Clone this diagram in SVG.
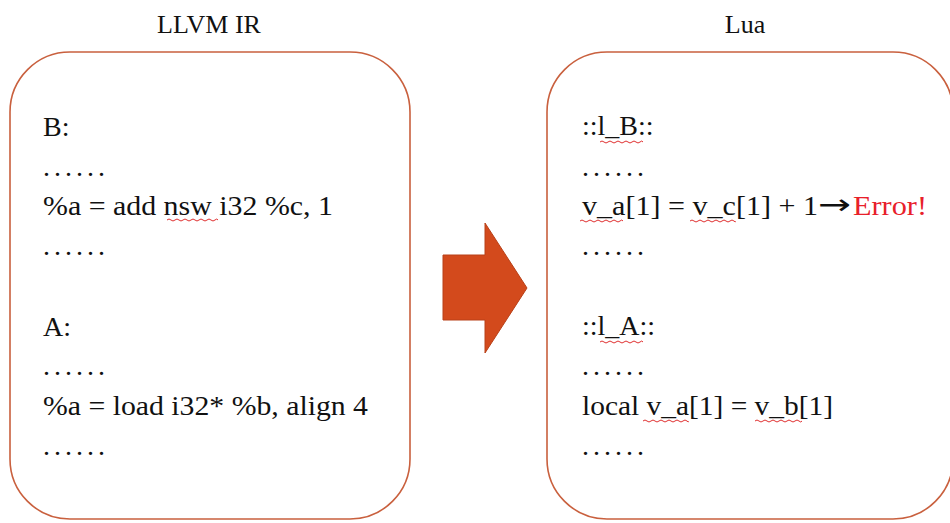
<svg xmlns="http://www.w3.org/2000/svg" width="950" height="523" viewBox="0 0 950 523">
<defs>
<style>
text{font-family:"Liberation Serif","Times New Roman",serif}
.t{font-size:28px;fill:#111}
.h{font-size:26px;fill:#111;text-anchor:middle}
.box{fill:#fff;stroke:#c9603e;stroke-width:1.6}
.sq{fill:none;stroke:#e03030;stroke-width:1}
.err{fill:#e8202a}
.ar{font-family:"DejaVu Sans",sans-serif}
</style>
</defs>
<rect width="950" height="523" fill="#fff"/>
<g id="llvm">
<text class="h" x="209" y="33">LLVM IR</text>
<rect class="box" x="10" y="52" width="400" height="467" rx="60" ry="60"/>
<text class="t" x="43" y="136">B:</text>
<text class="t" x="43" y="176" textLength="62">......</text>
<text class="t" x="43" y="215" textLength="290" lengthAdjust="spacingAndGlyphs">%a = add nsw i32 %c, 1</text>
<text class="t" x="43" y="255" textLength="62">......</text>
<text class="t" x="43" y="336">A:</text>
<text class="t" x="43" y="375" textLength="62">......</text>
<text class="t" x="43" y="415" textLength="325" lengthAdjust="spacingAndGlyphs">%a = load i32* %b, align 4</text>
<text class="t" x="43" y="455" textLength="62">......</text>
<path class="sq" d="M167 220 q2 -2 4 0 t4 0 t4 0 t4 0 t4 0 t4 0 t4 0 t4 0 t4 0 t4 0 t4 0 t4 0 t3 0"/>
</g>
<g id="lua">
<text class="h" x="745" y="33">Lua</text>
<rect class="box" x="547" y="52" width="406" height="467" rx="60" ry="60"/>
<text class="t" x="582" y="135">::l_B::</text>
<text class="t" x="582" y="176" textLength="62">......</text>
<text class="t" x="582" y="215" textLength="236" lengthAdjust="spacingAndGlyphs">v_a[1] = v_c[1] + 1</text>
<text class="t ar" x="818" y="214" textLength="33" lengthAdjust="spacingAndGlyphs">→</text>
<text class="t err" x="853" y="215" textLength="74" lengthAdjust="spacingAndGlyphs">Error!</text>
<text class="t" x="582" y="255" textLength="62">......</text>
<text class="t" x="582" y="335">::l_A::</text>
<text class="t" x="582" y="375" textLength="62">......</text>
<text class="t" x="582" y="415" textLength="251" lengthAdjust="spacingAndGlyphs">local v_a[1] = v_b[1]</text>
<text class="t" x="582" y="455" textLength="62">......</text>
<path class="sq" d="M600 142 q2 -2 4 0 t4 0 t4 0 t4 0 t4 0 t4 0 t4 0 t4 0 t4 0 t4 0 t3 0"/>
<path class="sq" d="M580 221 q2 -2 4 0 t4 0 t4 0 t4 0 t4 0 t4 0 t4 0 t4 0 t4 0 t4 0 t3 0"/>
<path class="sq" d="M690 221 q2 -2 4 0 t4 0 t4 0 t4 0 t4 0 t4 0 t4 0 t4 0 t4 0 t4 0 t4 0 t1 0"/>
<path class="sq" d="M600 342 q2 -2 4 0 t4 0 t4 0 t4 0 t4 0 t4 0 t4 0 t4 0 t4 0 t4 0 t3 0"/>
<path class="sq" d="M643 421 q2 -2 4 0 t4 0 t4 0 t4 0 t4 0 t4 0 t4 0 t4 0 t4 0 t4 0 t4 0 t1 0"/>
<path class="sq" d="M755 421 q2 -2 4 0 t4 0 t4 0 t4 0 t4 0 t4 0 t4 0 t4 0 t4 0 t4 0 t4 0 t3 0"/>
</g>
<g id="connectors">
<polygon points="443,255 485,255 485,223 527,288 485,353 485,320 443,320" fill="#d34a1c" stroke="#b84018" stroke-width="1"/>
</g>
</svg>
